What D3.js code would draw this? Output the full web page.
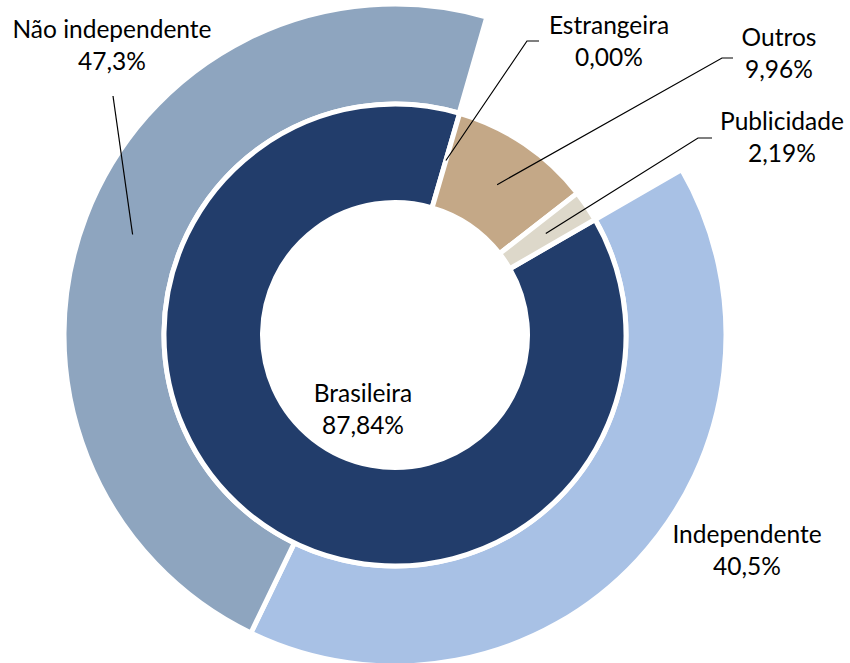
<!DOCTYPE html>
<html>
<head>
<meta charset="utf-8">
<script src="https://cdn.jsdelivr.net/npm/d3@7"></script>
<style>
  body { margin: 0; background: #fff; }
  text { font-family: Lato, "Open Sans", sans-serif; font-size: 24.5px; fill: #000; }
</style>
</head>
<body>
<div class="viewbox"></div>
<script>
// inner ring: origin of the content
const innerCats = ["Brasileira", "Estrangeira", "Outros", "Publicidade"];
const innerVals = [87.84, 0.00, 9.96, 2.19];
const innerColors = ["#223d6b", "#223d6b", "#c4a887", "#ddd8ca"];

// outer ring: split of the Brasileira share
const outerCats = ["Independente", "Não independente"];
const outerVals = [40.5, 47.3];
const outerColors = ["#a8c1e5", "#8ea5bf"];

const svg_width = 850;
const svg_height = 663;
const cx = 395, cy = 335;
const startAngle = 60 * Math.PI / 180;

// label placement (text centre + baseline), and the elbow of the leader line if any
const labelPos = {
  "Brasileira":       { x: 363, y: 402 },
  "Estrangeira":      { x: 609, y: 34, from: [539, 41], elbow: [527, 41] },
  "Outros":           { x: 779, y: 46, from: [733, 58], elbow: [722, 58] },
  "Publicidade":      { x: 782, y: 130, from: [712, 138], elbow: [698, 138] },
  "Independente":     { x: 747, y: 543 },
  "Não independente": { x: 112, y: 38, from: [113, 96] }
};

const locale = d3.formatLocale({ decimal: ",", thousands: ".", grouping: [3], currency: ["R$", ""] });
const fmt2 = locale.format(".2f");
const fmt1 = locale.format(".1f");

let svg = d3.select(".viewbox")
  .append("svg")
  .attr("width", svg_width)
  .attr("height", svg_height)
  .append("g")
  .attr("transform", `translate(${cx},${cy})`);

const innerTotal = d3.sum(innerVals);

const innerPie = d3.pie().sort(null)
  .startAngle(startAngle)
  .endAngle(startAngle + 2 * Math.PI);

// the outer ring only covers the Brasileira part, the rest stays blank
const outerPie = d3.pie().sort(null)
  .startAngle(startAngle)
  .endAngle(startAngle + 2 * Math.PI * d3.sum(outerVals) / innerTotal);

const innerArc = d3.arc().innerRadius(132.5).outerRadius(231);
const outerArc = d3.arc().innerRadius(231).outerRadius(331);

const innerData = innerPie(innerVals).map((d, i) => ({ ...d, name: innerCats[i], color: innerColors[i], label: fmt2(d.value) + "%" }));
const outerData = outerPie(outerVals).map((d, i) => ({ ...d, name: outerCats[i], color: outerColors[i], label: fmt1(d.value) + "%" }));

svg.selectAll(".outer")
  .data(outerData)
  .enter()
  .append("path")
  .attr("class", "outer")
  .attr("d", outerArc)
  .attr("fill", d => d.color)
  .attr("stroke", "#fff")
  .attr("stroke-width", 5)
  .attr("stroke-linejoin", "miter");

svg.selectAll(".inner")
  .data(innerData.filter(d => d.value > 0))
  .enter()
  .append("path")
  .attr("class", "inner")
  .attr("d", innerArc)
  .attr("fill", d => d.color)
  .attr("stroke", "#fff")
  .attr("stroke-width", 5)
  .attr("stroke-linejoin", "miter");

// labels
let labels = d3.select("svg").append("g");
const all = innerData.map(d => ({ d, arc: innerArc })).concat(outerData.map(d => ({ d, arc: outerArc })));

all.forEach(({ d, arc }) => {
  const p = labelPos[d.name];
  if (p.from) {
    const c = arc.centroid(d);
    const pts = [p.from];
    if (p.elbow) pts.push(p.elbow);
    pts.push([c[0] + cx, c[1] + cy]);
    labels.append("path")
      .attr("d", d3.line()(pts))
      .attr("fill", "none")
      .attr("stroke", "#000")
      .attr("stroke-width", 1.2);
  }
  const t = labels.append("text")
    .attr("text-anchor", "middle")
    .attr("x", p.x)
    .attr("y", p.y);
  t.append("tspan").attr("x", p.x).text(d.name);
  t.append("tspan").attr("x", p.x).attr("dy", 32).text(d.label);
});
</script>
</body>
</html>
